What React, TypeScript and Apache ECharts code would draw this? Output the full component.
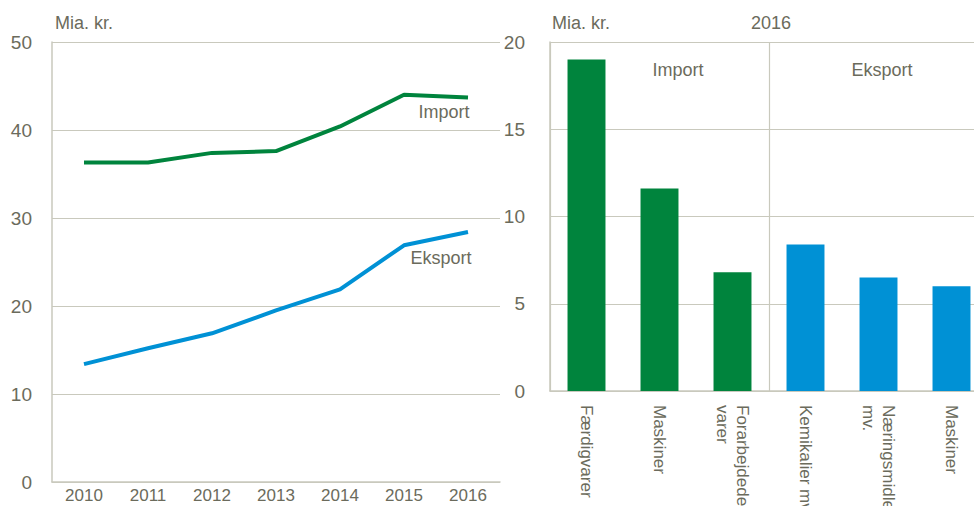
import React, { useEffect, useRef } from "react";
import * as echarts from "echarts";

const years = ["2010", "2011", "2012", "2013", "2014", "2015", "2016"];
const importValues = [36.3, 36.3, 37.4, 37.6, 40.4, 44.0, 43.7];
const eksportValues = [13.4, 15.2, 16.9, 19.5, 21.9, 26.9, 28.4];

const barCategories = [
  "Færdigvarer",
  "Maskiner",
  "Forarbejdede\nvarer",
  "Kemikalier mv.",
  "Næringsmidler\nmv.",
  "Maskiner",
];
const barValues = [19.0, 11.6, 6.8, 8.4, 6.5, 6.0];
const barGroups = ["import", "import", "import", "eksport", "eksport", "eksport"];
// group separator axis: 0 = start, 1 = Import|Eksport boundary, 2 = end
const groupCount = 2;

const GREEN = "#00843D";
const BLUE = "#0091D5";
const TEXT = "#6b6b5c";
const GRIDC = "#c9c9bd";
const FONT = "'Liberation Sans Narrow', 'Arial Narrow', 'Liberation Sans', Arial, sans-serif";

export default function App() {
  const ref = useRef<HTMLDivElement>(null);
  useEffect(() => {
    if (!ref.current) return;
    const chart = echarts.init(ref.current, undefined, { renderer: "svg" });
    const axisText = { color: TEXT, fontFamily: FONT, fontSize: 19 };
    chart.setOption({
      animation: false,
      textStyle: { fontFamily: FONT },
      grid: [
        { left: 52, top: 42, width: 448, height: 440, outerBoundsMode: "none", containLabel: false },
        { left: 550, top: 42, width: 438, height: 349, outerBoundsMode: "none", containLabel: false },
      ],
      xAxis: [
        {
          type: "category",
          gridIndex: 0,
          data: years,
          boundaryGap: true,
          axisLine: { show: true, lineStyle: { color: GRIDC, width: 1.5 } },
          axisTick: { show: false },
          axisLabel: { ...axisText, fontSize: 17, margin: 5 },
          splitLine: { show: false },
        },
        {
          type: "category",
          gridIndex: 1,
          data: barCategories,
          boundaryGap: true,
          axisLine: { show: true, lineStyle: { color: GRIDC, width: 1.5 } },
          axisTick: { show: false },
          axisLabel: { ...axisText, fontSize: 17, rotate: -90, margin: 14, interval: 0, lineHeight: 20 },
          splitLine: { show: false },
        },
        {
          type: "value",
          gridIndex: 1,
          min: 0,
          max: groupCount,
          interval: 1,
          axisLine: { show: false },
          axisTick: { show: false },
          axisLabel: { show: false },
          splitLine: { show: true, lineStyle: { color: GRIDC, width: 1.2 } },
        },
      ],
      yAxis: [
        {
          type: "value",
          gridIndex: 0,
          min: 0,
          max: 50,
          interval: 10,
          axisLine: { show: true, lineStyle: { color: GRIDC, width: 1.5 } },
          axisTick: { show: false },
          axisLabel: { ...axisText, margin: 20 },
          splitLine: { show: true, lineStyle: { color: GRIDC, width: 1.2 } },
        },
        {
          type: "value",
          gridIndex: 1,
          min: 0,
          max: 20,
          interval: 5,
          axisLine: { show: true, lineStyle: { color: GRIDC, width: 1.5 } },
          axisTick: { show: false },
          axisLabel: { ...axisText, margin: 25 },
          splitLine: { show: true, lineStyle: { color: GRIDC, width: 1.2 } },
        },
      ],
      series: [
        {
          type: "line",
          name: "Import",
          xAxisIndex: 0,
          yAxisIndex: 0,
          data: importValues,
          symbol: "none",
          lineStyle: { color: GREEN, width: 4 },
        },
        {
          type: "line",
          name: "Eksport",
          xAxisIndex: 0,
          yAxisIndex: 0,
          data: eksportValues,
          symbol: "none",
          lineStyle: { color: BLUE, width: 4 },
        },
        {
          type: "bar",
          xAxisIndex: 1,
          yAxisIndex: 1,
          barWidth: "52%",
          z: 3,
          data: barValues.map((v, i) => ({
            value: v,
            itemStyle: { color: barGroups[i] === "import" ? GREEN : BLUE },
          })),
        },
      ],
      graphic: [
        { type: "text", left: 55, top: 14, style: { text: "Mia. kr.", fill: TEXT, font: `18px ${FONT}` } },
        { type: "text", left: 552, top: 14, style: { text: "Mia. kr.", fill: TEXT, font: `18px ${FONT}` } },
        { type: "text", left: 751, top: 14, style: { text: "2016", fill: TEXT, font: `18px ${FONT}` } },
        { type: "text", x: 444, y: 112, style: { text: "Import", fill: TEXT, font: `18px ${FONT}`, align: "center", verticalAlign: "middle" } },
        { type: "text", x: 441, y: 258, style: { text: "Eksport", fill: TEXT, font: `18px ${FONT}`, align: "center", verticalAlign: "middle" } },
        { type: "text", x: 678, y: 70, style: { text: "Import", fill: TEXT, font: `18px ${FONT}`, align: "center", verticalAlign: "middle" } },
        { type: "text", x: 882, y: 70, style: { text: "Eksport", fill: TEXT, font: `18px ${FONT}`, align: "center", verticalAlign: "middle" } },
      ],
    });
    return () => chart.dispose();
  }, []);
  return (
    <div
      ref={ref}
      style={{ position: "fixed", left: 0, top: 0, width: 974, height: 506, background: "#fff" }}
    />
  );
}
